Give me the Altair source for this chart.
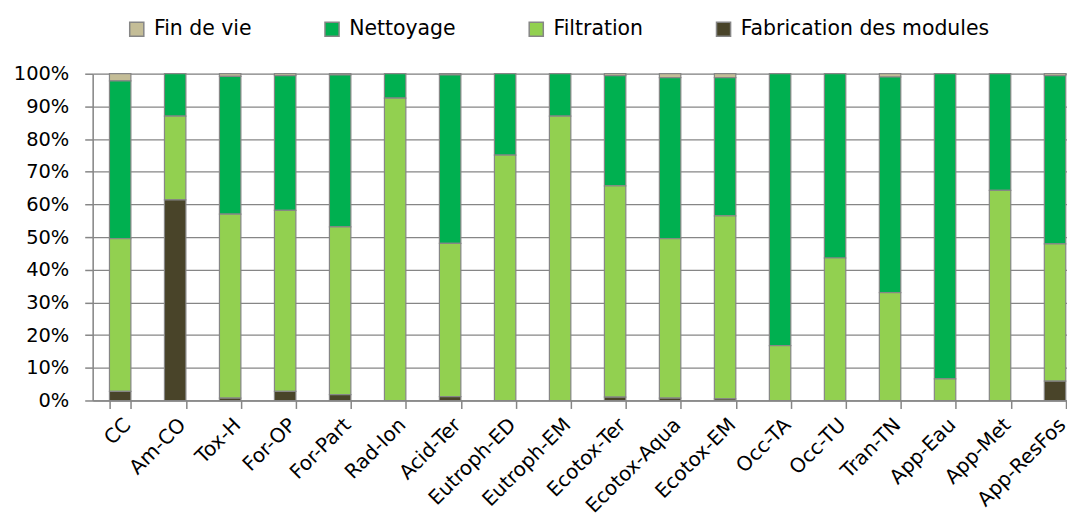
import altair as alt
import pandas as pd

categories = ["CC", "Am-CO", "Tox-H", "For-OP", "For-Part", "Rad-Ion", "Acid-Ter",
              "Eutroph-ED", "Eutroph-EM", "Ecotox-Ter", "Ecotox-Aqua", "Ecotox-EM",
              "Occ-TA", "Occ-TU", "Tran-TN", "App-Eau", "App-Met", "App-ResFos"]

fabrication = [2.8, 61.4, 0.7, 2.8, 1.8, 0.0, 1.2, 0.0, 0.0, 1.0, 0.7, 0.5,
               0.0, 0.0, 0.0, 0.0, 0.0, 5.9]
filtration = [46.7, 25.6, 56.3, 55.4, 51.3, 92.5, 46.9, 75.1, 87.0, 64.7, 48.8, 56.0,
              16.8, 43.6, 33.0, 6.6, 64.3, 42.0]
nettoyage = [48.3, 13.0, 42.2, 41.2, 46.5, 7.5, 51.5, 24.9, 13.0, 33.7, 49.3, 42.3,
             83.2, 56.4, 66.0, 93.4, 35.7, 51.5]
fin_de_vie = [2.2, 0.0, 0.8, 0.6, 0.4, 0.0, 0.4, 0.0, 0.0, 0.6, 1.2, 1.2,
              0.0, 0.0, 1.0, 0.0, 0.0, 0.6]

series_names = ["Fin de vie", "Nettoyage", "Filtration", "Fabrication des modules"]
series_colors = ["#C4BD97", "#00B050", "#92D050", "#494429"]
stack_order = {"Fabrication des modules": 0, "Filtration": 1, "Nettoyage": 2, "Fin de vie": 3}
series_values = {
    "Fin de vie": fin_de_vie,
    "Nettoyage": nettoyage,
    "Filtration": filtration,
    "Fabrication des modules": fabrication,
}

rows = []
for name in series_names:
    for cat, v in zip(categories, series_values[name]):
        rows.append({"cat": cat, "serie": name, "value": v / 100.0, "ord": stack_order[name]})
df = pd.DataFrame(rows)

n = len(categories)
step = 55.2
FONT = "DejaVu Sans"
GRAY = "#868686"

chart = alt.Chart(df).mark_bar(stroke=GRAY, strokeWidth=1.2).encode(
    x=alt.X("cat:N", sort=categories, title=None,
            scale=alt.Scale(range=[0, n * step], paddingInner=0.61, paddingOuter=0.305),
            axis=alt.Axis(labelAngle=315, labelAlign="right", labelBaseline="top",
                          labelPadding=6, tickSize=8, tickBand="extent",
                          tickColor=GRAY, tickWidth=1.5, domainColor=GRAY, domainWidth=1.5,
                          labelFont=FONT, labelFontSize=20, labelColor="#000000",
                          labelOverlap=False, grid=False, labelLimit=300)),
    y=alt.Y("value:Q", stack="zero", title=None,
            scale=alt.Scale(domain=[0, 1], nice=False),
            axis=alt.Axis(values=[i / 10 for i in range(11)], format=".0%",
                          tickSize=8, tickColor=GRAY, tickWidth=1.5,
                          domainColor=GRAY, domainWidth=1.5,
                          gridColor=GRAY, gridWidth=1.3, grid=True,
                          labelFont=FONT, labelFontSize=19.5, labelColor="#000000",
                          labelPadding=16)),
    color=alt.Color("serie:N",
                    scale=alt.Scale(domain=series_names, range=series_colors),
                    legend=alt.Legend(orient="none", direction="horizontal",
                                      legendX=34, legendY=-55, title=None,
                                      symbolType="square", symbolSize=200,
                                      symbolStrokeColor=GRAY, symbolStrokeWidth=1.5,
                                      symbolOpacity=1,
                                      labelFont=FONT, labelFontSize=20.5,
                                      labelColor="#000000", labelOffset=7,
                                      columnPadding=70, padding=0, labelLimit=400)),
    order=alt.Order("ord:Q", sort="ascending"),
).properties(
    width=978, height=328,
    autosize=alt.AutoSizeParams(type="none"),
    padding={"left": 85, "top": 65, "right": 0, "bottom": 116},
).configure_view(stroke=None).configure(background="white")

chart.save("out.html", embed_options={"renderer": "svg", "actions": False})
